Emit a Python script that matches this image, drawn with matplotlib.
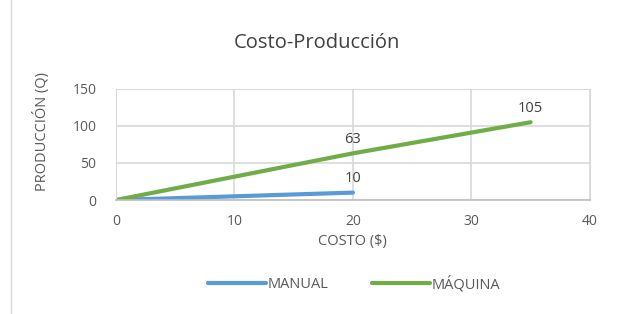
import matplotlib.pyplot as plt
from matplotlib.lines import Line2D

plt.rcParams['font.family'] = ['Open Sans', 'DejaVu Sans']

# datos
costo_manual = [0, 20]
prod_manual = [0, 10]
costo_maquina = [0, 20, 35]
prod_maquina = [0, 63, 105]

gris = '#595959'

fig = plt.figure(figsize=(6.17, 3.14), dpi=100)
ax = fig.add_axes([0.188, 0.363, 0.768, 0.354])

ax.plot(costo_manual, prod_manual, color='#5B9BD5', lw=3, solid_capstyle='round', label='MANUAL')
ax.plot(costo_maquina, prod_maquina, color='#70AD47', lw=3, solid_capstyle='round', label='MÁQUINA')

ax.text(20, 10 + 9, '10', ha='center', va='bottom', fontsize=10.5, color='#404040')
ax.text(20, 63 + 9, '63', ha='center', va='bottom', fontsize=10.5, color='#404040')
ax.text(35, 105 + 9, '105', ha='center', va='bottom', fontsize=10.5, color='#404040')

ax.set_xlim(0, 40)
ax.set_ylim(0, 150)
ax.set_xticks([0, 10, 20, 30, 40])
ax.set_yticks([0, 50, 100, 150])
ax.grid(True, color='#D9D9D9', lw=1.2)
ax.set_axisbelow(True)
for s in ['top', 'right', 'left']:
    ax.spines[s].set_color('#D9D9D9')
ax.spines['bottom'].set_color('#BFBFBF')
ax.spines['bottom'].set_linewidth(1.2)
ax.tick_params(length=0, labelsize=10, colors=gris)
ax.tick_params(axis='x', pad=10)
ax.tick_params(axis='y', pad=14)

ax.set_xlabel('COSTO ($)', fontsize=10.5, color=gris, labelpad=4)
ax.set_ylabel('PRODUCCIÓN (Q)', fontsize=10.5, color=gris)
ax.yaxis.set_label_coords(-0.14, 0.62)
fig.text(0.514, 0.862, 'Costo-Producción', ha='center', va='center', fontsize=14.5, color='#404040')

ax.legend(loc='center', bbox_to_anchor=(0.574, 0.095), bbox_transform=fig.transFigure,
          ncol=2, frameon=False, fontsize=10.5, labelcolor=gris, handlelength=4.0,
          columnspacing=3.0, handletextpad=0.1)

fig.add_artist(Line2D([0.018, 0.018], [0, 1], color='#D9D9D9', lw=1, transform=fig.transFigure))

fig.savefig('out.png', dpi=100)
